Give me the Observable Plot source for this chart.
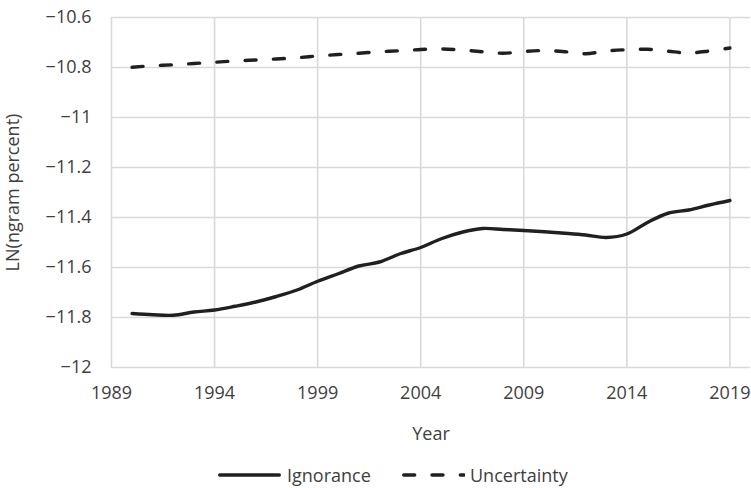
<!DOCTYPE html>
<html>
<head>
<meta charset="utf-8">
<script src="https://cdn.jsdelivr.net/npm/d3@7"></script>
<script src="https://cdn.jsdelivr.net/npm/@observablehq/plot@0.6"></script>
<style>
  html, body { margin: 0; padding: 0; background: #fff; }
  #chart { position: relative; width: 751px; height: 488px; font-family: "Open Sans", sans-serif; }
  #legend { position: absolute; left: 0; top: 462px; height: 26px; width: 751px; font-size: 18px; color: #404040; }
  .item { position: absolute; top: 0; display: flex; align-items: center; height: 26px; }
  .item svg { margin-right: 6px; }
</style>
</head>
<body>
<div id="chart"></div>
<script>
const years = [1990, 1991, 1992, 1993, 1994, 1995, 1996, 1997, 1998, 1999,
               2000, 2001, 2002, 2003, 2004, 2005, 2006, 2007, 2008, 2009,
               2010, 2011, 2012, 2013, 2014, 2015, 2016, 2017, 2018, 2019];
const ignorance = [-11.784, -11.789, -11.791, -11.778, -11.770, -11.755, -11.738, -11.716, -11.690, -11.655,
                   -11.625, -11.594, -11.578, -11.545, -11.520, -11.485, -11.459, -11.444, -11.448, -11.452,
                   -11.457, -11.463, -11.470, -11.480, -11.466, -11.420, -11.383, -11.370, -11.350, -11.332];
const uncertainty = [-10.799, -10.793, -10.789, -10.784, -10.779, -10.774, -10.770, -10.766, -10.761, -10.754,
                     -10.748, -10.743, -10.737, -10.733, -10.728, -10.726, -10.730, -10.737, -10.743, -10.736,
                     -10.732, -10.737, -10.745, -10.734, -10.729, -10.727, -10.735, -10.742, -10.734, -10.722];
const xTicks = [1989, 1994, 1999, 2004, 2009, 2014, 2019];
const yTicks = [-10.6, -10.8, -11, -11.2, -11.4, -11.6, -11.8, -12];
const seriesNames = ["Ignorance", "Uncertainty"];

const rowsI = years.map((y, i) => ({year: y, value: ignorance[i]}));
const rowsU = years.map((y, i) => ({year: y, value: uncertainty[i]}));

const ink = "#231f20";
const plot = Plot.plot({
  width: 751,
  height: 462,
  marginLeft: 111,
  marginRight: 1,
  marginTop: 17,
  marginBottom: 95,
  style: {fontFamily: "Open Sans, sans-serif", fontSize: "18px", color: "#404040", background: "#fff"},
  x: {domain: [1989, 2020]},
  y: {domain: [-12, -10.6]},
  marks: [
    Plot.gridX(xTicks, {stroke: "#d9d9d9", strokeOpacity: 1, strokeWidth: 1.6}),
    Plot.gridY(yTicks, {stroke: "#d9d9d9", strokeOpacity: 1, strokeWidth: 1.6}),
    Plot.axisX({ticks: xTicks, tickFormat: d => String(d), tickSize: 0, tickPadding: 19,
                label: "Year", labelAnchor: "center", labelArrow: "none", labelOffset: 72}),
    Plot.axisY({ticks: yTicks, tickFormat: d => String(d).replace("-", "\u2212"), tickSize: 0, tickPadding: 20,
                label: "LN(ngram percent)", labelAnchor: "center", labelArrow: "none", labelOffset: 105}),
    Plot.line(rowsU, {x: "year", y: "value", curve: "catmull-rom", stroke: ink, strokeWidth: 3.4,
                      strokeDasharray: "11,17.3", strokeLinecap: "round"}),
    Plot.line(rowsI, {x: "year", y: "value", curve: "catmull-rom", stroke: ink, strokeWidth: 3.4})
  ]
});
document.getElementById("chart").appendChild(plot);

const legend = document.createElement("div");
legend.id = "legend";
legend.innerHTML =
  `<div class="item" style="left:218px"><svg width="63" height="8"><line x1="1.7" y1="4" x2="61.3" y2="4" stroke="${ink}" stroke-width="3.4" stroke-linecap="round"/></svg><span>${seriesNames[0]}</span></div>` +
  `<div class="item" style="left:402px"><svg width="63" height="8"><line x1="1.7" y1="4" x2="62" y2="4" stroke="${ink}" stroke-width="3.4" stroke-linecap="round" stroke-dasharray="11,17.3"/></svg><span style="margin-left:-1px">${seriesNames[1]}</span></div>`;
document.getElementById("chart").appendChild(legend);
</script>
</body>
</html>
